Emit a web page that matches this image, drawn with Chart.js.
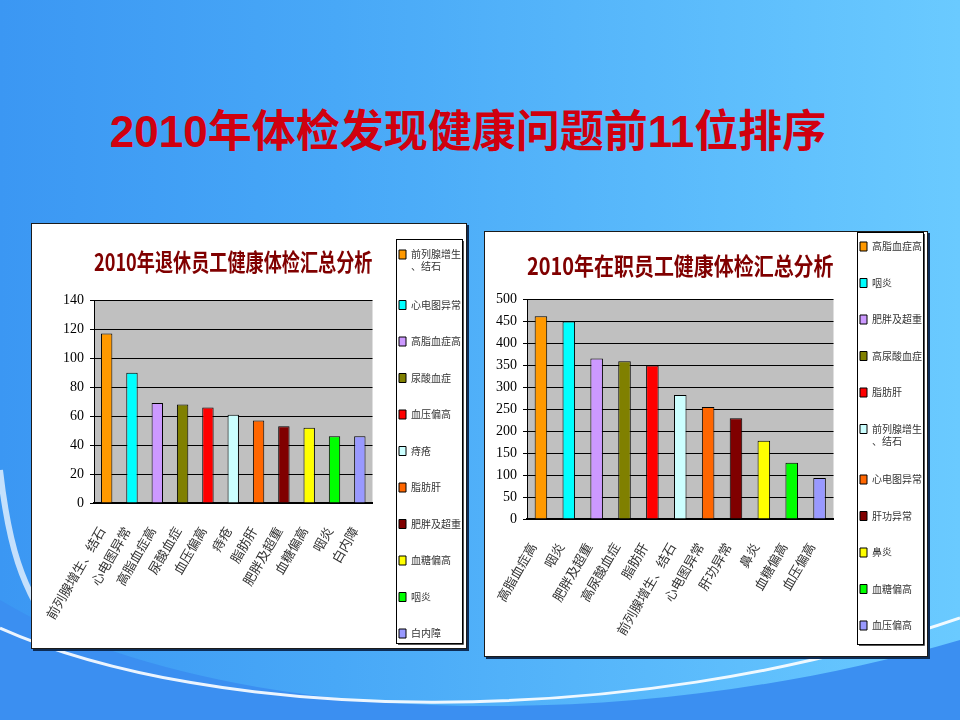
<!DOCTYPE html>
<html>
<head>
<meta charset="utf-8">
<script src="https://cdn.jsdelivr.net/npm/chart.js@4.4.0/dist/chart.umd.min.js"></script>
<style>
  html, body { margin: 0; padding: 0; }
  body {
    width: 960px; height: 720px; overflow: hidden; position: relative;
    background: linear-gradient(90deg, #3b97f3 0%, #48a8f7 35%, #6acaff 100%);
  }
  #deco { position: absolute; left: 0; top: 0; }
  #title {
    position: absolute; left: 0; top: 106px; width: 936px; text-align: center;
    font: bold 44px "Liberation Sans", "Noto Sans CJK SC", sans-serif;
    color: #d0000f; line-height: 52px;
  }
  .box { position: absolute; background: #fff; border: 1px solid #1b1b1b; box-shadow: 2px 2px 0 #0d2c55; }
  canvas { position: absolute; }
</style>
</head>
<body>
<svg id="deco" width="960" height="720">
  <path d="M0,600 C200,720 600,745 960,640 L960,720 L0,720 Z" fill="#3b8ff1"/>
  <path d="M0,628 C210,722 620,735 960,618" fill="none" stroke="#ffffff" stroke-width="3" opacity="0.9"/>
  <path d="M0,470 C8,540 20,590 60,640" fill="none" stroke="#ffffff" stroke-width="6" opacity="0.7"/>
</svg>
<div id="title">2010年体检发现健康问题前11位排序</div>
<div class="box" style="left:31px;top:223px;width:434px;height:424px"></div>
<div class="box" style="left:484px;top:231px;width:442px;height:424px"></div>
<canvas id="retired" width="446" height="450" style="left:31px;top:223px"></canvas>
<canvas id="active" width="455" height="450" style="left:484px;top:215px"></canvas>
<script>
// bar colours, same order in both charts
const colors = ['#FF9900', '#00FFFF', '#CC99FF', '#808000', '#FF0000', '#CCFFFF',
                '#FF6600', '#800000', '#FFFF00', '#00FF00', '#9999FF'];

// retired staff
const retiredCategories = ['前列腺增生、结石', '心电图异常', '高脂血症高', '尿酸血症', '血压偏高', '痔疮',
                           '脂肪肝', '肥胖及超重', '血糖偏高', '咽炎', '白内障'];
const retiredCounts = [117, 90, 69, 68, 66, 61, 57, 53, 52, 46, 46];
const retiredAxis = [0, 140, 20]; // min, max, step

// working staff
const activeCategories = ['高脂血症高', '咽炎', '肥胖及超重', '高尿酸血症', '脂肪肝', '前列腺增生、结石',
                          '心电图异常', '肝功异常', '鼻炎', '血糖偏高', '血压偏高'];
const activeCounts = [461, 449, 365, 359, 349, 282, 255, 229, 178, 128, 93];
const activeAxis = [0, 500, 50];

Chart.defaults.font.family = '"Noto Sans CJK SC", sans-serif';

// gray plot background
const plotBg = {
    id: 'plotBg',
    beforeDraw(chart) {
        const a = chart.chartArea;
        const ctx = chart.ctx;
        ctx.save();
        ctx.fillStyle = '#C0C0C0';
        ctx.fillRect(a.left, a.top, a.right - a.left, a.bottom - a.top);
        ctx.restore();
    }
};

// frame round the legend, like the excel chart
const legendFrame = {
    id: 'legendFrame',
    afterDraw(chart, args, opts) {
        const boxes = chart.legend.legendHitBoxes;
        if (!boxes || !boxes.length) return;
        const ctx = chart.ctx;
        const x = boxes[0].left - 3;
        ctx.save();
        ctx.strokeStyle = '#000';
        ctx.lineWidth = 1;
        ctx.strokeRect(x + 0.5, opts.top + 0.5, opts.width, opts.bottom - opts.top);
        ctx.strokeStyle = '#555';
        ctx.beginPath();
        ctx.moveTo(x + 2, opts.bottom + 1.5);
        ctx.lineTo(x + opts.width + 1.5, opts.bottom + 1.5);
        ctx.lineTo(x + opts.width + 1.5, opts.top + 2);
        ctx.stroke();
        ctx.restore();
    }
};

function legendText(c) {
    return c.length > 5 ? [c.slice(0, 5), c.slice(5)] : c;
}

function makeChart(id, title, cats, vals, axis, g) {
    return new Chart(document.getElementById(id), {
        type: 'bar',
        data: {
            labels: cats,
            datasets: [{
                data: vals,
                backgroundColor: colors,
                borderColor: '#000',
                borderWidth: 1,
                barPercentage: 0.45,
                categoryPercentage: 1
            }]
        },
        options: {
            responsive: false,
            animation: false,
            devicePixelRatio: 1,
            layout: { padding: { left: 0, right: g.padRight, top: 0, bottom: 0 } },
            plugins: {
                title: {
                    display: true,
                    text: title,
                    fullSize: false,
                    color: '#800000',
                    font: { size: 23.5, weight: 'bold' },
                    padding: { top: g.titleTop, bottom: g.titleBottom }
                },
                legend: {
                    position: 'right',
                    align: 'start',
                    labels: {
                        boxWidth: 7,
                        boxHeight: 9,
                        padding: 26.5,
                        color: '#333',
                        font: { size: 10 },
                        generateLabels: () => cats.map((c, i) => ({
                            text: legendText(c),
                            fillStyle: colors[i],
                            strokeStyle: '#000',
                            lineWidth: 1,
                            fontColor: '#333',
                            hidden: false,
                            index: i,
                            datasetIndex: 0
                        }))
                    }
                },
                tooltip: { enabled: false },
                legendFrame: { top: g.frameTop, bottom: g.frameBottom, width: 66 }
            },
            scales: {
                x: {
                    grid: { display: false },
                    border: { display: true, color: '#000', width: 2 },
                    ticks: {
                        minRotation: 60,
                        maxRotation: 60,
                        autoSkip: false,
                        padding: 13,
                        labelOffset: g.labelShift,
                        color: '#333',
                        font: { size: 13 }
                    },
                    afterFit: s => { s.height = g.xHeight; }
                },
                y: {
                    min: axis[0],
                    max: axis[1],
                    ticks: {
                        stepSize: axis[2],
                        padding: 6,
                        color: '#000',
                        font: { family: '"Liberation Serif", serif', size: 14 }
                    },
                    grid: { color: '#000', lineWidth: 1, tickLength: 4, tickColor: '#000' },
                    border: { color: '#000', width: 1 },
                    afterFit: s => { s.width = g.yWidth; }
                }
            }
        },
        plugins: [plotBg, legendFrame]
    });
}

makeChart('retired', '2010年退休员工健康体检汇总分析', retiredCategories, retiredCounts, retiredAxis,
    { padRight: 6, titleTop: 25, titleBottom: 24, xHeight: 170, yWidth: 63, labelShift: -5,
      frameTop: 16, frameBottom: 420 });

makeChart('active', '2010年在职员工健康体检汇总分析', activeCategories, activeCounts, activeAxis,
    { padRight: 7, titleTop: 37, titleBottom: 19, xHeight: 146, yWidth: 43, labelShift: -8,
      frameTop: 17, frameBottom: 429 });
</script>
</body>
</html>
